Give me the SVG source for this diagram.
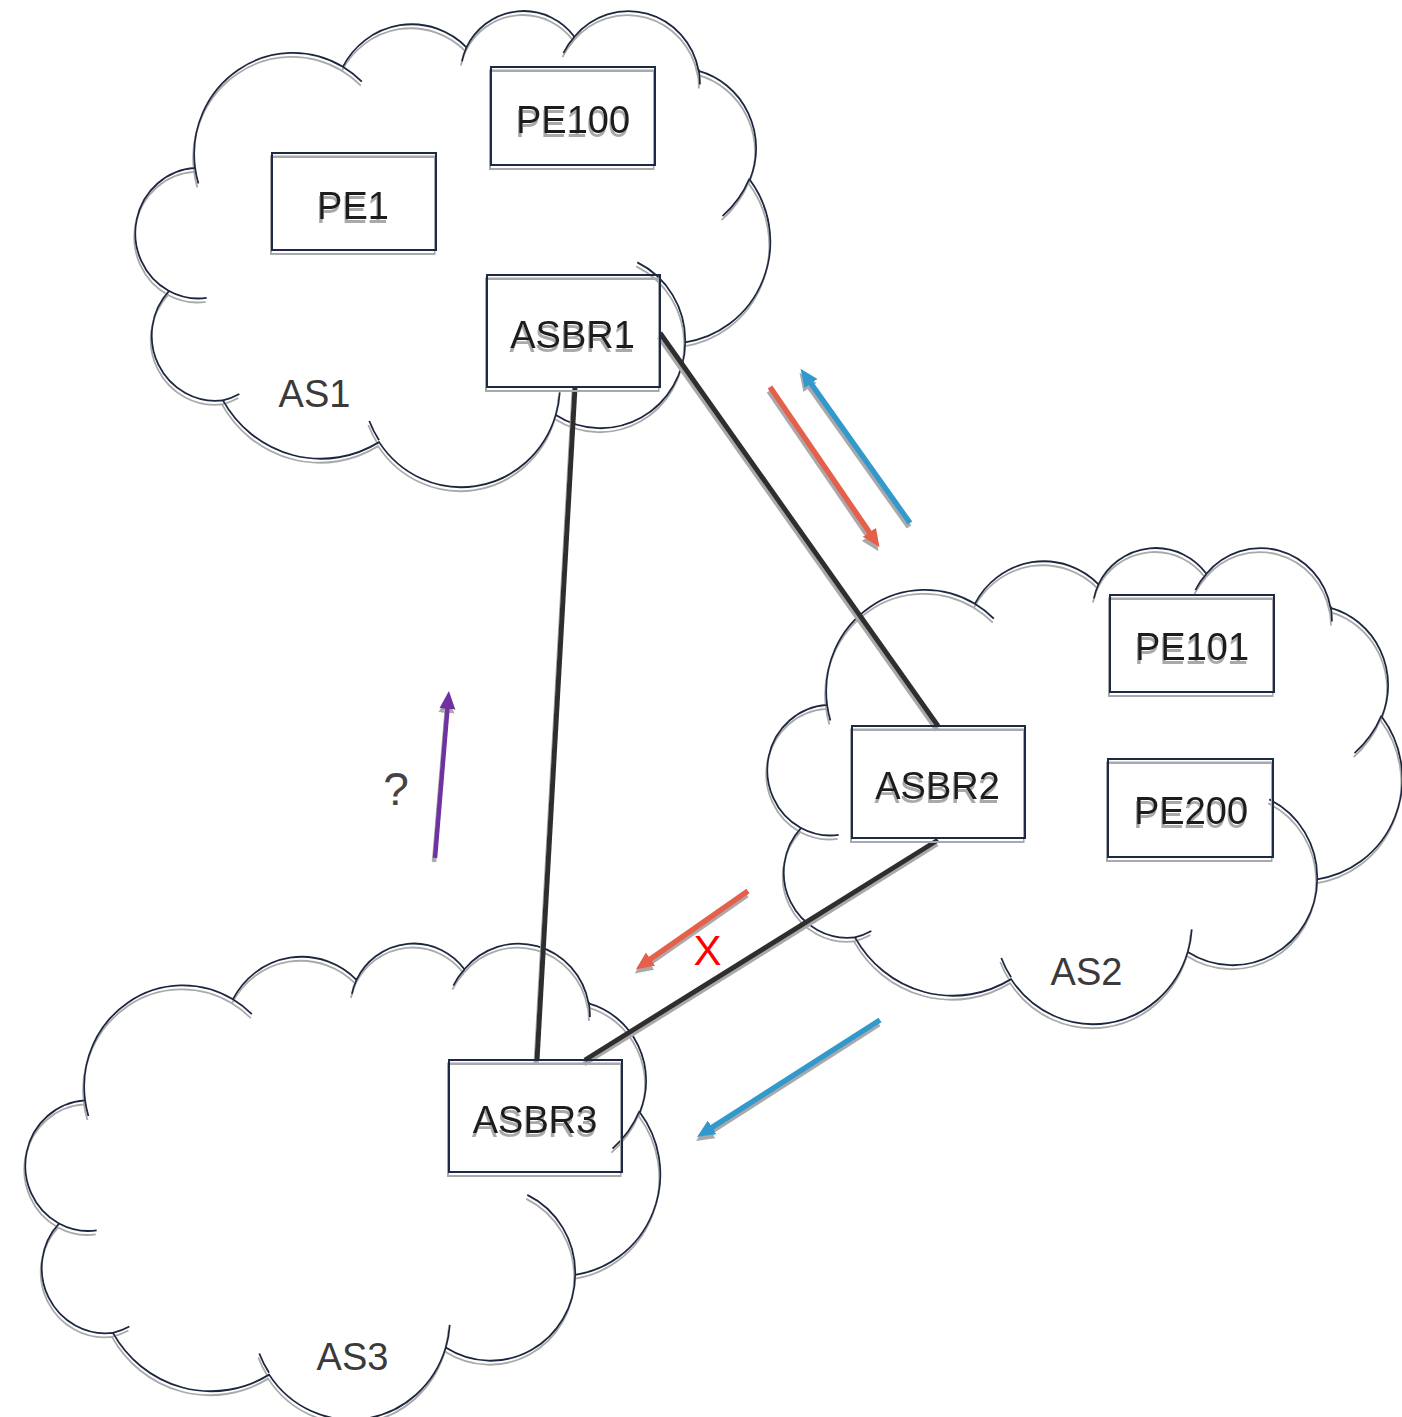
<svg xmlns="http://www.w3.org/2000/svg" xmlns:xlink="http://www.w3.org/1999/xlink" width="1402" height="1417" viewBox="0 0 1402 1417">
  <style>
    .cloud { fill: none; stroke: #1d2840; stroke-width: 1.8; }
    .box { fill: none; stroke: #1f2b44; stroke-width: 2; }
    .lbl { font-family: "Liberation Sans", Arial, sans-serif; font-size: 38px; fill: #1a1a1a; text-anchor: middle; }
    .as { font-family: "Liberation Sans", Arial, sans-serif; font-size: 38px; fill: #3a3a3a; text-anchor: middle; }
    .link { stroke: #2f2f2f; stroke-width: 5; fill: none; }
    .red { stroke: #e5604c; stroke-width: 5.5; fill: none; }
    .blue { stroke: #3399cc; stroke-width: 5.5; fill: none; }
    .purple { stroke: #7030a0; stroke-width: 4.5; fill: none; }
  </style>
  <defs>
    <!-- flat grey drop shadow used by the drawn elements -->
    <filter id="sh" filterUnits="userSpaceOnUse" x="-20" y="-20" width="1442" height="1457">
      <feFlood flood-color="#a9a9a9"/>
      <feComposite in2="SourceAlpha" operator="in"/>
      <feOffset dx="-1.5" dy="3.5" result="shadow"/>
      <feMerge>
        <feMergeNode in="shadow"/>
        <feMergeNode in="SourceGraphic"/>
      </feMerge>
    </filter>
    <!-- cloud outline in a 43200 x 43200 unit frame -->
    <g id="cloudShape">
      <path vector-effect="non-scaling-stroke" d="M3900 14370 A6753 9190 0 0 1 14005 5202 A5333 7267 0 0 1 22456 3430 A4365 5945 0 0 1 29833 2477 A4857 6595 0 0 1 38317 5573 A5333 7273 0 0 1 41818 15457 A6775 9220 0 0 1 37404 30201 A5785 7867 0 0 1 28556 36811 A6752 9215 0 0 1 16481 39264 A7720 10543 0 0 1 5806 35472 A4360 5918 0 0 1 2115 25550 A4345 5945 0 0 1 3900 14370 Z"/>
      <path vector-effect="non-scaling-stroke" d="M4693 26177 A4345 5945 0 0 1 2115 25550 M6928 34899 A4360 5918 0 0 1 5806 35472 M16478 39090 A6752 9215 0 0 1 15809 37347 M28827 34751 A6752 9215 0 0 1 28556 36811 M34129 22954 A5785 7867 0 0 1 37404 30201 M41798 15354 A6775 9220 0 0 1 39955 18747 M38324 5426 A5333 7273 0 0 1 38407 6814 M29078 3952 A4857 6595 0 0 1 29833 2477 M22141 4720 A4365 5945 0 0 1 22456 3430 M14000 5192 A6753 9190 0 0 1 15299 6540 M4127 15789 A6753 9190 0 0 1 3900 14370"/>
    </g>
    <marker id="headRed" markerUnits="userSpaceOnUse" markerWidth="20" markerHeight="18" refX="7" refY="8" orient="auto">
      <path d="M0 0 L18 8 L0 16 Z" fill="#e5604c"/>
    </marker>
    <marker id="headBlue" markerUnits="userSpaceOnUse" markerWidth="20" markerHeight="18" refX="7" refY="8" orient="auto">
      <path d="M0 0 L18 8 L0 16 Z" fill="#3399cc"/>
    </marker>
    <marker id="headPurple" markerUnits="userSpaceOnUse" markerWidth="20" markerHeight="18" refX="7" refY="8" orient="auto">
      <path d="M0 0 L18 8 L0 16 Z" fill="#7030a0"/>
    </marker>
  </defs>

  <!-- autonomous systems -->
  <g id="as1">
    <g filter="url(#sh)">
      <use xlink:href="#cloudShape" class="cloud" transform="translate(138 9.5) scale(0.0146296 0.0110185)"/>
    </g>
    <text class="as" x="314.5" y="407">AS1</text>
  </g>
  <g id="as2">
    <g filter="url(#sh)">
      <use xlink:href="#cloudShape" class="cloud" transform="translate(770 546.5) scale(0.0146296 0.0110185)"/>
    </g>
    <text class="as" x="1086.5" y="985">AS2</text>
  </g>
  <g id="as3">
    <g filter="url(#sh)">
      <use xlink:href="#cloudShape" class="cloud" transform="translate(28 942) scale(0.0146296 0.0110185)"/>
    </g>
    <text class="as" x="352.5" y="1370">AS3</text>
  </g>

  <!-- inter-AS links -->
  <g id="connectors" filter="url(#sh)">
    <line class="link" x1="575" y1="387" x2="537" y2="1060"/>
    <line class="link" x1="660" y1="333" x2="938" y2="726"/>
    <line class="link" x1="938" y1="840" x2="585" y2="1060"/>
  </g>

  <!-- routers -->
  <g id="pe1" filter="url(#sh)">
    <rect class="box" x="272" y="153" width="164" height="97"/>
    <text class="lbl" x="353" y="219">PE1</text>
  </g>
  <g id="pe100" filter="url(#sh)">
    <rect class="box" x="491" y="67" width="164" height="98"/>
    <text class="lbl" x="573" y="133">PE100</text>
  </g>
  <g id="asbr1" filter="url(#sh)">
    <rect class="box" x="487" y="275" width="173" height="112"/>
    <text class="lbl" x="572.5" y="348">ASBR1</text>
  </g>
  <g id="pe101" filter="url(#sh)">
    <rect class="box" x="1110" y="595" width="164" height="97"/>
    <text class="lbl" x="1192" y="660">PE101</text>
  </g>
  <g id="pe200" filter="url(#sh)">
    <rect class="box" x="1108" y="759" width="165" height="98"/>
    <text class="lbl" x="1191" y="824">PE200</text>
  </g>
  <g id="asbr2" filter="url(#sh)">
    <rect class="box" x="852" y="726" width="173" height="112"/>
    <text class="lbl" x="937.5" y="799">ASBR2</text>
  </g>
  <g id="asbr3" filter="url(#sh)">
    <rect class="box" x="449" y="1060" width="173" height="112"/>
    <text class="lbl" x="535" y="1133">ASBR3</text>
  </g>

  <!-- route advertisement arrows -->
  <g id="flows" filter="url(#sh)">
    <line class="red" x1="770" y1="387" x2="873.3" y2="538.1" marker-end="url(#headRed)"/>
    <line class="blue" x1="910" y1="523" x2="806.9" y2="377.8" marker-end="url(#headBlue)"/>
    <line class="purple" x1="435" y1="858" x2="448.0" y2="702.0" marker-end="url(#headPurple)"/>
    <line class="red" x1="748" y1="891" x2="644.8" y2="963.1" marker-end="url(#headRed)"/>
    <line class="blue" x1="880" y1="1020" x2="706.3" y2="1131.1" marker-end="url(#headBlue)"/>
  </g>
  <g id="marks">
    <text class="as" x="396" y="805" style="font-size:46px;fill:#444444">?</text>
    <text class="as" x="707.5" y="965" style="font-size:42px;fill:#ff0000">X</text>
  </g>
</svg>
